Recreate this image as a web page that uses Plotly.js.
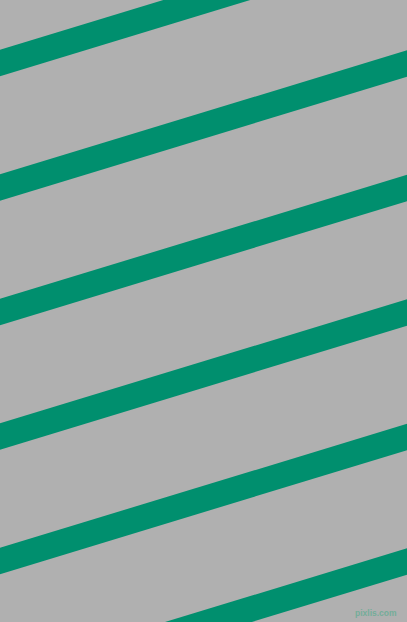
<!DOCTYPE html>
<html>
<head>
<meta charset="utf-8">
<script src="https://cdn.plot.ly/plotly-3.0.1.min.js"></script>
<style>
  html, body { margin: 0; padding: 0; background: #b0b0b0; }
  #chart { width: 407px; height: 622px; }
</style>
</head>
<body>
<div id="chart"></div>
<script>
//------------INPUT DATA------------
// stripe ends, x in px (just outside the picture so the ends are cut clean)
const X_ENDS = [-20, 427];
// stripe centre y at the left end, px from top
const Y_LEFT = [69, 193.5, 318, 442.5, 567, 691.5];
// stripe centre y at the right end
const Y_RIGHT = [-67, 57.5, 182, 306.5, 431, 555.5];
//------------END INPUT DATA------------

const BG = "#b0b0b0";
const STRIPE = "#008f6e";

// one line trace per stripe
function stripeTraces() {
  const traces = [];
  for (let i = 0; i < Y_LEFT.length; i++) {
    traces.push({
      x: X_ENDS,
      y: [Y_LEFT[i], Y_RIGHT[i]],
      type: "scatter",
      mode: "lines",
      hoverinfo: "none",
      line: { color: STRIPE, width: 25.3 },
    });
  }
  return traces;
}

const layout = {
  width: 407,
  height: 622,
  margin: { t: 0, b: 0, l: 0, r: 0 },
  paper_bgcolor: BG,
  plot_bgcolor: BG,
  showlegend: false,
  xaxis: { range: [0, 407], visible: false, fixedrange: true },
  yaxis: { range: [622, 0], visible: false, fixedrange: true },
  annotations: [
    {
      text: "<b>pixlis.com</b>",
      xref: "paper",
      yref: "paper",
      x: 0.98,
      y: 0.004,
      xanchor: "right",
      yanchor: "bottom",
      showarrow: false,
      font: { family: "Liberation Sans", size: 8.5, color: "#74ad99" },
    },
  ],
};

Plotly.newPlot("chart", stripeTraces(), layout, { displayModeBar: false, staticPlot: true });
</script>
</body>
</html>
